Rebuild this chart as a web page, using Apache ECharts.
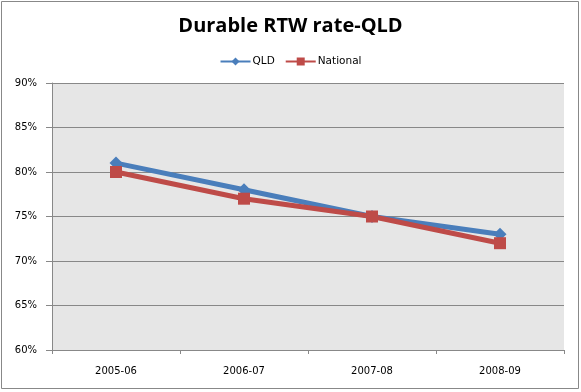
<!DOCTYPE html>
<html><head><meta charset="utf-8">
<script src="https://cdn.jsdelivr.net/npm/echarts@6/dist/echarts.min.js"></script>
<style>html,body{margin:0;padding:0;background:#fff}#c{width:581px;height:392px}</style>
</head><body><div id="c"></div>
<script>
const categories = ['2005-06', '2006-07', '2007-08', '2008-09'];
const qld = [81, 78, 75, 73];
const national = [80, 77, 75, 72];
const yTicks = {min: 60, max: 90, interval: 5};

const chart = echarts.init(document.getElementById('c'));
chart.setOption({
  animation: false,
  backgroundColor: '#fff',
  title: {
    text: 'Durable RTW rate-QLD', left: 'center', top: 11,
    textStyle: {fontFamily: 'Open Sans', fontWeight: 'bold', fontSize: 20, color: '#000'}
  },
  legend: {
    top: 51, left: 'center', itemWidth: 30, itemHeight: 10, itemGap: 10,
    textStyle: {fontFamily: 'DejaVu Sans', fontSize: 10.5, color: '#000', padding: [0, 0, 0, -3]},
    data: ['QLD', 'National']
  },
  graphic: [{
    type: 'rect', shape: {x: 1.5, y: 1.5, width: 577, height: 387},
    style: {fill: 'none', stroke: '#888', lineWidth: 1}, silent: true
  }],
  grid: {left: 52, right: 17, top: 83, bottom: 42, show: true, backgroundColor: '#e6e6e6', borderWidth: 0},
  xAxis: {
    type: 'category', data: categories, boundaryGap: true,
    axisLine: {lineStyle: {color: '#888'}},
    axisTick: {show: true, lineStyle: {color: '#888'}, length: 4},
    axisLabel: {fontFamily: 'DejaVu Sans', fontSize: 10, color: '#000', margin: 16}
  },
  yAxis: {
    type: 'value', min: yTicks.min, max: yTicks.max, interval: yTicks.interval,
    axisLine: {show: true, lineStyle: {color: '#888'}},
    axisTick: {show: true, inside: false, length: 6, lineStyle: {color: '#888'}},
    splitLine: {lineStyle: {color: '#888', width: 1}},
    axisLabel: {fontFamily: 'DejaVu Sans', fontSize: 10, color: '#000', margin: 15, formatter: v => v + '%'}
  },
  series: [
    {name: 'QLD', type: 'line', data: qld, symbol: 'diamond', symbolSize: 13,
     color: '#4a7ebb', lineStyle: {width: 5, color: '#4a7ebb'}, itemStyle: {color: '#4a7ebb'}},
    {name: 'National', type: 'line', data: national, symbol: 'rect', symbolSize: 12,
     color: '#be4b48', lineStyle: {width: 5, color: '#be4b48'}, itemStyle: {color: '#be4b48'}}
  ]
});
</script></body></html>
